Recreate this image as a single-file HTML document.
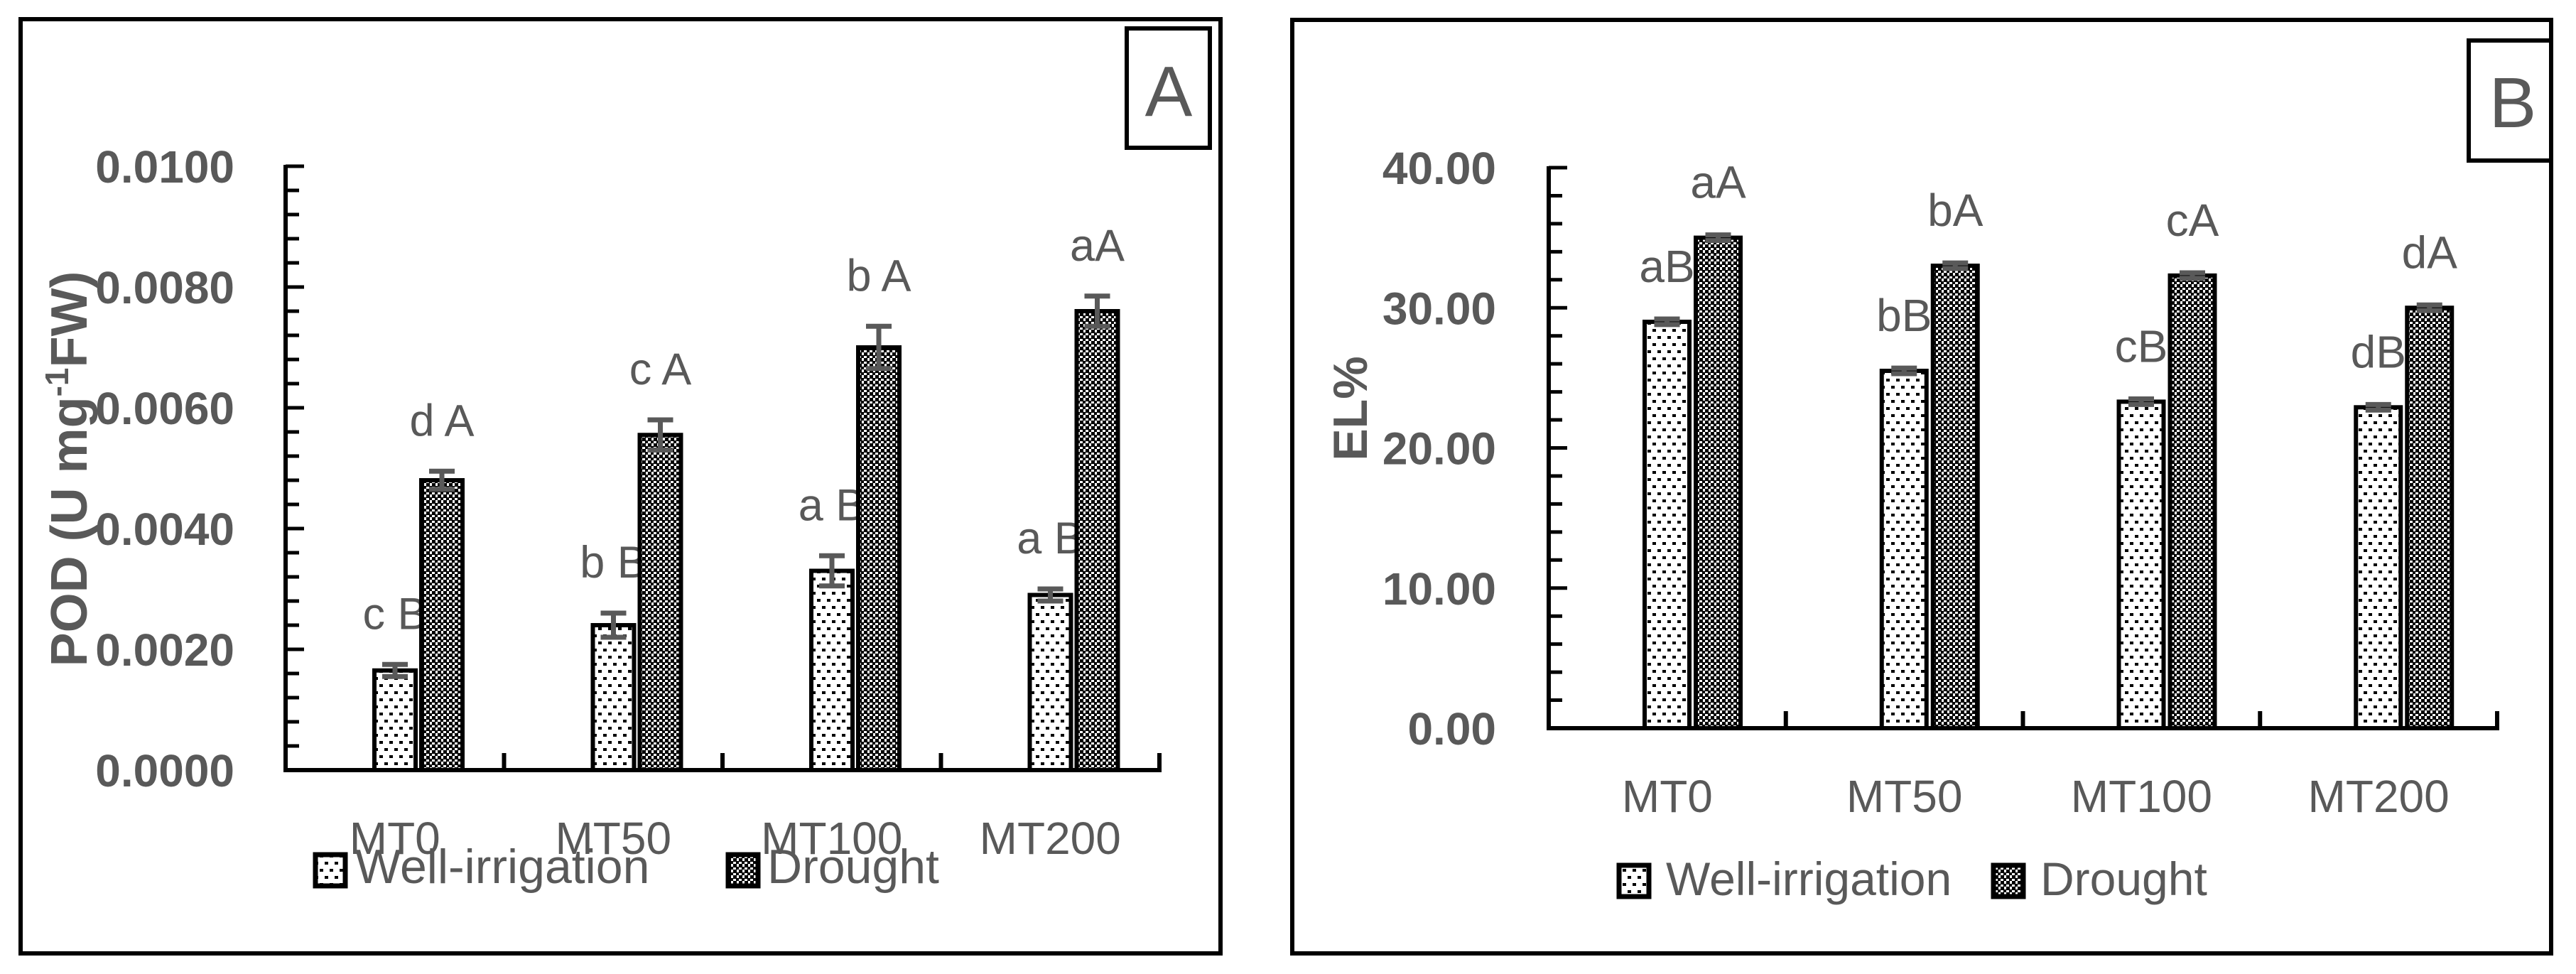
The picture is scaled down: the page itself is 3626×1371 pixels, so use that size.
<!DOCTYPE html>
<html><head><meta charset="utf-8"><style>
html,body{margin:0;padding:0;background:#fff;}
svg{display:block;}
text{font-family:"Liberation Sans",sans-serif;fill:#595959;}
.tick{font-weight:bold;}
</style></head><body>
<svg id="fig" width="3626" height="1371" viewBox="0 0 3626 1371" xmlns="http://www.w3.org/2000/svg">
<defs>
<pattern id="dots" width="14" height="20" patternUnits="userSpaceOnUse">
<rect width="14" height="20" fill="#fff"/>
<rect x="2" y="3" width="5" height="4" fill="#000"/>
<rect x="9" y="13" width="5" height="4" fill="#000"/>
</pattern>
<pattern id="check" width="8" height="8" patternUnits="userSpaceOnUse">
<rect width="8" height="8" fill="#fff"/>
<rect x="0" y="0" width="5" height="5" fill="#000"/>
<rect x="4" y="4" width="5" height="5" fill="#000"/>
</pattern>
</defs>
<g id="panelA">
<rect x="29" y="27" width="1689" height="1315" fill="none" stroke="#000" stroke-width="6"/>
<rect x="1586" y="40" width="117" height="168" fill="#fff" stroke="#000" stroke-width="6"/>
<text x="1645" y="163" font-size="100" text-anchor="middle">A</text>
<text transform="translate(122,660) rotate(-90)" font-size="72" font-weight="bold" text-anchor="middle">POD (U mg<tspan font-size="46" dy="-26">-1</tspan><tspan dy="26">FW)</tspan></text>
</g>
<g id="panelB">
<rect x="1819" y="28" width="1772" height="1314" fill="none" stroke="#000" stroke-width="6"/>
<rect x="3475" y="57" width="116" height="169" fill="#fff" stroke="#000" stroke-width="6"/>
<text x="3537" y="179" font-size="100" text-anchor="middle">B</text>
<text transform="translate(1924,575) rotate(-90)" font-size="68" font-weight="bold" text-anchor="middle">EL%</text>
</g>
<g id="gA"></g>
<g id="gB"></g>
</svg>
<script>
const categories = ["MT0","MT50","MT100","MT200"];
const podWell = [0.00165,0.0024,0.0033,0.0029];
const podDrought = [0.0048,0.00555,0.0070,0.0076];
const podWellErr = [0.0001,0.0002,0.00025,0.0001];
const podDroughtErr = [0.00015,0.00025,0.00035,0.00025];
const podWellLetters = ["c B","b B","a B","a B"];
const podDroughtLetters = ["d A","c A","b A","aA"];
const podTicks = ["0.0000","0.0020","0.0040","0.0060","0.0080","0.0100"];
const elWell = [29.0,25.5,23.3,22.9];
const elDrought = [35.0,33.0,32.3,30.0];
const elWellErr = [0.2,0.2,0.2,0.2];
const elDroughtErr = [0.2,0.2,0.2,0.2];
const elWellLetters = ["aB","bB","cB","dB"];
const elDroughtLetters = ["aA","bA","cA","dA"];
const elTicks = ["0.00","10.00","20.00","30.00","40.00"];
const NS="http://www.w3.org/2000/svg";
function mk(parent,tag,attrs){const e=document.createElementNS(NS,tag);for(const k in attrs)e.setAttribute(k,attrs[k]);parent.appendChild(e);return e;}

function drawPanel(g,cfg){
  const yS=v=>cfg.y0-(v-cfg.vmin)/(cfg.vmax-cfg.vmin)*(cfg.y0-cfg.y1);
  const band=(cfg.xEnd-cfg.x0)/categories.length;
  for(let i=0;i<=cfg.nMinor;i++){
    const y=cfg.y0-(cfg.y0-cfg.y1)*i/cfg.nMinor;
    const major=i%cfg.majorEvery===0;
    const t=mk(g,'line',{x1:cfg.x0,x2:cfg.x0+(major?26:19),y1:y,y2:y,stroke:'#000','stroke-width':5});
    
    
  }
  cfg.ticks.forEach((lab,i)=>{
    const v=cfg.vmin+(cfg.vmax-cfg.vmin)*i/(cfg.ticks.length-1);
    const t=mk(g,'text',{x:cfg.tickRight,y:yS(v)+23,'font-size':cfg.tickFont,'text-anchor':'end','class':'tick'});
    t.textContent=lab;
    
    
  });
  const ya=mk(g,'line',{x1:cfg.x0,x2:cfg.x0,y1:cfg.y1-2,y2:cfg.y0+3,stroke:'#000','stroke-width':6});
  
  
  for(let i=0;i<=categories.length;i++){
    const x=cfg.x0+band*i;
    const t=mk(g,'line',{x1:x,x2:x,y1:cfg.y0-24,y2:cfg.y0,stroke:'#000','stroke-width':6});
    
    
  }
  categories.forEach((c,i)=>{
    const bs=cfg.x0+band*i;
    const series=[[cfg.well,cfg.wellErr,cfg.wellLet,cfg.wOff,'url(#dots)','well-irrigation'],[cfg.dr,cfg.drErr,cfg.drLet,cfg.dOff,'url(#check)','drought']];
    series.forEach(s=>{
      const v=s[0][i],e=s[1][i];
      const x=bs+s[3],top=yS(v);
      const r=mk(g,'rect',{x:x,y:top,width:cfg.bw,height:cfg.y0-top,fill:s[4],stroke:'#000','stroke-width':6});
      
      
      const cx=x+cfg.bw/2,et=yS(v+e),eb=yS(v-e);
      const el=mk(g,'path',{d:`M${cx},${et}V${eb}M${cx-18},${et}H${cx+18}M${cx-18},${eb}H${cx+18}`,stroke:'#595959','stroke-width':7,fill:'none'});
      
      
      const t=mk(g,'text',{x:cx,y:et-cfg.letGap,'font-size':cfg.letFont,'text-anchor':'middle'});
      t.textContent=s[2][i];
      
      
    });
    const lt=mk(g,'text',{x:bs+band/2,y:cfg.catY,'font-size':cfg.catFont,'text-anchor':'middle'});
    lt.textContent=c;
    
    
  });
  const xa=mk(g,'line',{x1:cfg.x0-3,x2:cfg.xEnd+3,y1:cfg.y0,y2:cfg.y0,stroke:'#000','stroke-width':6});
  
  
  const L=cfg.leg;
  const s1=mk(g,'rect',{x:L.s1,y:L.sy,width:L.sw,height:L.sh,fill:'url(#dots)',stroke:'#000','stroke-width':7});
  
  
  const t1=mk(g,'text',{x:L.t1,y:L.by,'font-size':L.font});
  t1.textContent='Well-irrigation';
  
  
  const s2=mk(g,'rect',{x:L.s2,y:L.sy,width:L.sw,height:L.sh,fill:'url(#check)',stroke:'#000','stroke-width':7});
  
  
  const t2=mk(g,'text',{x:L.t2,y:L.by,'font-size':L.font});
  t2.textContent='Drought';
  
  
}
drawPanel(document.getElementById('gA'),{x0:402,xEnd:1632,y0:1084,y1:234,vmin:0,vmax:0.01,nMinor:25,majorEvery:5,
  ticks:podTicks,tickRight:330,tickFont:64,well:podWell,dr:podDrought,wellErr:podWellErr,drErr:podDroughtErr,
  wellLet:podWellLetters,drLet:podDroughtLetters,wOff:125,dOff:191,bw:58,letGap:50,letFont:63,catY:1202,catFont:64,
  leg:{s1:444,s2:1025,t1:500,t2:1080,sy:1203,sw:42,sh:44,by:1243,font:68}});
drawPanel(document.getElementById('gB'),{x0:2180,xEnd:3515,y0:1025,y1:236,vmin:0,vmax:40,nMinor:20,majorEvery:5,
  ticks:elTicks,tickRight:2106,tickFont:64,well:elWell,dr:elDrought,wellErr:elWellErr,drErr:elDroughtErr,
  wellLet:elWellLetters,drLet:elDroughtLetters,wOff:135,dOff:207,bw:63,letGap:52,letFont:64,catY:1143,catFont:64,
  leg:{s1:2279,s2:2806,t1:2345,t2:2872,sy:1218,sw:42,sh:44,by:1260,font:66}});
</script>
</body></html>
